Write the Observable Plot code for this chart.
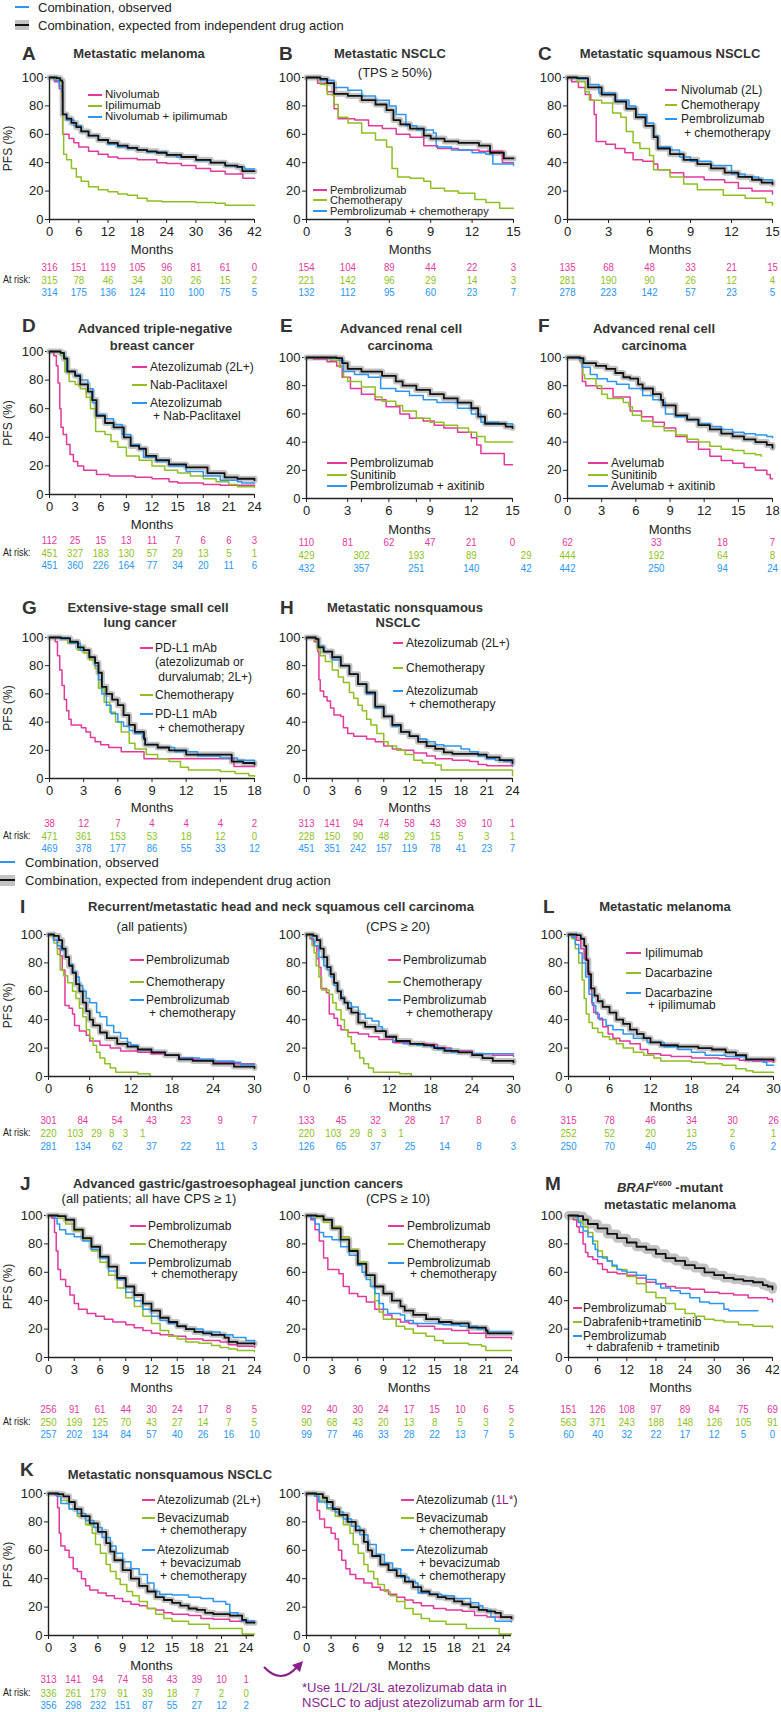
<!DOCTYPE html>
<html><head><meta charset="utf-8">
<script src="https://cdn.jsdelivr.net/npm/d3@7"></script>
<script src="https://cdn.jsdelivr.net/npm/@observablehq/plot@0.6"></script>
<style>
body{margin:0;background:#fff;}
#root{position:relative;width:781px;height:1712px;overflow:hidden;font-family:"Liberation Sans",Arial,Helvetica,sans-serif;color:#222;background:#fff;}
.t{position:absolute;white-space:pre;line-height:1;transform:translateY(-50%);}
.sw{position:absolute;height:2px;}
</style></head><body><div id="root"></div><script>
// ---------- colours ----------
const PINK = "#e2399c", GREEN = "#8fbf22", BLUE = "#2b95ef", PURPLE = "#8a1f8c";

// ---------- A: metastatic melanoma ----------
const A_arm1 = [[0,100],[1,97],[2,92],[2.6,85],[2.7,60],[4,57],[5,54],[6,51],[8,48],[10,46],[12,44],[14,43],[18,42],[22,40],[24,39.5],[27,38],[30,36],[33,34],[36,32],[39.5,32],[39.6,29],[42,29]];
const A_arm2 = [[0,100],[1,99],[2,97],[2.5,88],[2.7,60],[2.9,46],[3.5,42],[4.5,36],[5.5,30],[6.5,27],[8,23],[10,21],[12,19.5],[14,18],[16,17],[18,15],[20,13],[23,12.5],[30,12],[34,11.5],[36,10],[42,10]];
const A_obs = [[0,100],[1,98],[2,94],[2.5,90],[2.7,74],[3.5,70],[5,66],[6.5,62],[8,59],[10,56],[12,53],[14,51],[16,50],[18,49],[20,47.5],[24,45],[26,44],[30,41.5],[33,40],[36,38],[38,37],[40,35.5],[42,35.5]];
const A_exp = [[0,100],[1.5,99.5],[2.2,98],[2.6,97],[2.7,74],[3.5,71],[4.5,68],[5.5,65],[6.5,62],[8,59],[10,56],[12,54],[14,52],[16,50.5],[18,49],[20,48],[22,47],[24,45.5],[27,44],[30,42],[33,40],[36,38],[38.5,37],[39.5,34],[42,34]];
const A_ticks = [0,6,12,18,24,30,36,42];
const A_n1 = [316,151,119,105,96,81,61,0], A_n2 = [315,78,46,34,30,26,15,2], A_n3 = [314,175,136,124,110,100,75,5];

// ---------- B: NSCLC TPS>=50% ----------
const B_arm1 = [[0,100],[0.8,96],[1.5,90],[2,78],[2.3,71],[3.5,70],[4.5,66],[5.5,64],[6.5,60],[7.5,58],[8.5,52],[9.5,50],[11,49],[12.5,48],[14.2,40],[15,40]];
const B_arm2 = [[0,100],[1,95],[1.5,88],[2,81],[2.3,72],[3,68],[4,61],[5,56],[5.8,51],[6.2,36],[6.6,30],[7.5,29],[8.5,27],[9,22],[10,20],[11,18.5],[12.2,14],[13,12],[14,8],[15,8]];
const B_obs = [[0,100],[1,98],[2,93],[3,91],[4,87],[5,84],[6,80],[6.5,74],[7.2,66],[8,63],[9.2,61],[9.4,51],[10.5,49],[12,47],[13,46],[13.5,39],[15,38]];
const B_exp = [[0,100],[1,99],[1.5,96],[2,88.5],[3,87],[4,84],[5,81],[5.8,77],[6.3,70],[6.8,67],[7.5,64],[8.5,59],[9,57],[10,55],[11,54],[12.5,52],[13.3,47],[14.3,43],[15,43]];
const B_ticks = [0,3,6,9,12,15];
const B_n1 = [154,104,89,44,22,3], B_n2 = [221,142,96,29,14,3], B_n3 = [132,112,95,60,23,7];

// ---------- C: squamous NSCLC ----------
const C_arm1 = [[0,100],[0.3,97],[0.8,93],[1.3,88],[1.7,84],[1.95,74],[2.1,55],[2.8,53],[3.5,50],[4.2,47],[4.8,42],[5.5,41],[6.3,39],[6.6,35],[7.5,33],[8.5,30],[10,28],[11.5,26],[12.5,22],[13.5,20],[15,18]];
const C_arm2 = [[0,100],[0.7,97],[1.3,90],[1.6,84],[2.5,82],[3.3,75],[3.9,72],[4.3,62],[4.8,54],[5.3,50],[6,45],[6.3,35],[7.5,30],[8.5,25],[9.5,21],[11.4,17],[13,15],[14.5,12],[15,10]];
const C_obs = [[0,100],[0.8,99],[1.5,95],[2.3,89],[3.5,84],[4.5,80],[5,74],[5.8,68],[6.3,59],[6.6,51],[7.5,49],[8.2,44],[9,41],[10.5,38],[12,32],[13,30],[14,28],[15,26]];
const C_exp = [[0,100],[0.7,99.5],[1.5,93],[2.5,88],[3.5,83],[4.3,78],[5,72],[5.7,66],[6.3,58],[6.6,50],[7.5,46],[8.5,42],[9.5,39],[10.5,36],[11.5,33],[12.5,30],[13.5,28],[14.2,26],[15,25]];
const C_n1 = [135,68,48,33,21,15], C_n2 = [281,190,90,26,12,4], C_n3 = [278,223,142,57,23,5];

// ---------- D: TNBC ----------
const D_arm1 = [[0,100],[0.5,97],[0.8,90],[1,78],[1.2,60],[1.35,47],[1.6,42],[2,35],[2.4,28],[2.8,23],[3.3,20],[4,17],[5.5,14],[7,13],[10,12],[12,11],[14,9],[15,8],[18,7],[20,6.5],[24,6]];
const D_arm2 = [[0,100],[1.3,97],[1.8,86],[2.3,79],[3,77],[3.6,74],[4.3,68],[4.8,60],[5.4,44],[6.5,42],[7.2,37],[8,33],[9,27],[10.5,24],[12,20],[13.5,17],[15,15],[16.5,13],[18,11],[19.5,9],[21,7],[22,5.5],[24,5]];
const D_obs = [[0,100],[1.3,99],[1.7,96],[2,86],[3,84],[3.6,80],[4.5,74],[5.1,64],[5.5,56],[6.5,53],[7.5,49],[8.5,42],[9.5,35],[10.5,32],[11,26],[12.5,23],[14,20],[16,16],[18,13],[20,10],[22,9],[22.5,8],[24,8]];
const D_exp = [[0,100],[1.3,99],[1.7,95],[2.1,86],[3,83],[3.6,77],[4.5,72],[5,66],[5.5,55],[6.5,50],[7.5,47],[8.7,40],[9.5,34],[10.5,32],[11.3,27],[12.5,24],[14,21],[16,19],[18.5,15],[20.5,12],[22,11],[24,10]];
const D_ticks = [0,3,6,9,12,15,18,21,24];
const D_n1 = [112,25,15,13,11,7,6,6,3], D_n2 = [451,327,183,130,57,29,13,5,1], D_n3 = [451,360,226,164,77,34,20,11,6];

// ---------- E: RCC (pembrolizumab) ----------
const E_arm1 = [[0,100],[0.5,99],[1.5,97],[2.2,94],[2.6,86],[3.2,78],[4,74],[5,70],[5.8,65],[6.8,60],[7.5,57],[8.5,55],[9.3,52],[10,50],[11,47],[12,43],[12.4,38],[12.7,32],[14.3,32],[14.4,24],[15,24]];
const E_arm2 = [[0,100],[1.7,98],[2.4,93],[2.7,86],[3,83],[4,79],[5,72],[5.5,69],[6.5,66],[7,62],[8,57],[9,54],[10,52],[11,50],[11.8,47],[12.4,44],[13,40],[15,40]];
const E_obs = [[0,100],[1.5,99.5],[2.4,98],[2.7,90],[3.5,88],[4.5,86],[5.4,78],[6.5,76],[7.5,73],[8.5,70],[9.5,68],[11,64],[12,60],[12.7,54],[14,53],[15,52]];
const E_exp = [[0,100],[2.2,99.5],[2.6,96],[3,92],[4,90],[5.5,87],[6.5,83],[7,80],[8,77],[9,74],[10,71],[11,68],[12,64],[12.5,58],[13,53],[14.5,51],[15,50]];
const E_ticks = [0,3,4,6,8,9,12,15];
const E_t1 = [0,3,6,9,12,15], E_t2 = [0,4,8,12,16];
const E_n1 = [110,81,62,47,21,0], E_n2 = [429,302,193,89,29], E_n3 = [432,357,251,140,42];

// ---------- F: RCC (avelumab) ----------
const F_arm1 = [[0,100],[1.1,97],[1.3,83],[1.6,80],[2.6,78],[4,72],[5.3,72],[5.5,62],[6.5,58],[7.5,54],[8.5,50],[9.5,44],[10.5,40],[11.5,35],[12.5,30],[13.5,27],[14.5,25],[15.5,22],[16.5,20],[17.5,17],[17.8,14],[18,14]];
const F_arm2 = [[0,100],[1.2,96],[1.35,88],[1.5,85],[2.5,80],[3,74],[3.5,71],[4.9,68],[5.4,65],[5.7,59],[6.5,55],[7.5,51],[8.5,48],[9.5,45],[10.5,42],[11.5,40],[12.5,37],[13.5,35],[14.5,34],[15.5,32],[16.5,31],[17,30]];
const F_obs = [[0,100],[1,99],[1.3,93],[2,88],[2.6,85],[3.5,83],[4.3,81],[5.4,78],[6.6,73],[7.5,70],[8.3,68],[8.6,60],[9.5,58],[10.5,56],[11.5,53],[12.5,51],[13.5,49],[14.5,47],[15.5,46],[16.5,45],[17.5,44],[18,43]];
const F_exp = [[0,100],[1.1,99.5],[1.4,96],[2.5,94],[3.4,92],[4.2,89],[4.9,86],[5.5,85],[6.2,81],[6.6,78],[7.5,74],[8.2,70],[8.4,66],[9.5,59],[10.5,56],[11.5,52],[12.5,49],[13.5,46],[14.5,44],[15.5,42],[16.5,40],[17.5,38],[18,36]];
const F_ticks = [0,3,6,9,12,15,18];
const F_t = [0,7.8,13.6,18];
const F_n1 = [62,33,18,7], F_n2 = [444,192,64,8], F_n3 = [442,250,94,24];

// ---------- G: ES-SCLC ----------
const G_arm1 = [[0,100],[0.5,97],[0.7,87],[0.9,77],[1.1,66],[1.3,56],[1.5,48],[1.7,42],[1.9,38],[2.8,36],[3.2,33],[3.6,29],[4,26],[4.5,24],[5.2,22],[6.3,19],[8.3,14],[16,14],[16.2,8.5],[18,8.5]];
const G_arm2 = [[0,100],[1.3,99],[1.6,96],[2.5,91],[3,89],[3.5,84],[4,78],[4.3,64],[4.8,54],[5.3,47],[5.8,40],[6.3,33],[7,25],[7.5,21],[8.5,17],[9.5,14],[10.5,12],[11.5,8],[12.2,6],[15,5],[16.3,3.5],[17.5,2],[18,1.5]];
const G_obs = [[0,100],[1,99],[1.8,96],[2.7,91],[3.5,86],[4,80],[4.3,70],[4.6,60],[5,52],[5.4,46],[6,40],[6.5,37],[7,34],[7.5,32],[8.2,29],[8.4,24],[9.5,22],[11,19],[13,16],[15,14.5],[16.5,13],[18,12]];
const G_exp = [[0,100],[1,99.5],[1.8,97],[2.5,93],[3,91],[3.5,86],[4,82],[4.3,75],[4.6,65],[5,60],[5.5,56],[6,52],[6.5,45],[7,38],[7.5,33],[8.3,28],[8.4,24],[9.5,22],[10.5,20],[12,17],[15.7,17],[16,12],[17,11],[18,10]];
const G_ticks = [0,3,6,9,12,15,18];
const G_n1 = [38,12,7,4,4,4,2], G_n2 = [471,361,153,53,18,12,0], G_n3 = [469,378,177,86,55,33,12];

// ---------- H: nonsquamous NSCLC ----------
const H_arm1 = [[0,100],[0.9,97],[1.3,90],[1.45,70],[1.6,62],[2,58],[2.4,55],[2.8,50],[3.2,45],[4,44],[4.3,36],[4.8,32],[5.5,30],[7,28],[8,26],[9,23],[10,21],[11,20],[12.5,18],[14,16],[15,14],[17,13],[19,12],[20,10],[21,9],[24,8.5]];
const H_arm2 = [[0,100],[0.9,98],[1.3,92],[1.6,87],[2.2,83],[3,77],[3.7,72],[4.3,68],[5,61],[5.5,57],[6,52],[6.5,48],[7,42],[7.5,38],[8.2,32],[9,26],[9.5,23],[10.5,20],[11.5,17],[12.5,13],[13.5,11],[15,9.5],[15.7,6],[23.8,6],[24,2]];
const H_obs = [[0,100],[1.1,99],[1.4,94],[2,90],[3,84],[4,80],[5,74],[6,67],[7,60],[8,50],[9,44],[10,37],[11,33],[12,30],[13,28],[14,26],[15,24],[16,23],[18,21],[19,19],[20,16],[21,14],[22,13],[23,12],[24,10]];
const H_exp = [[0,100],[1.1,99],[1.4,93],[2,90],[3,86],[4,80],[5,74],[6,67],[7,61],[8,51],[9,44],[10,38],[11,33],[12,30],[13,26],[14,23],[15,21],[16,18.5],[17,17.5],[20,17],[21,15],[22.5,13],[24,11]];
const H_n1 = [313,141,94,74,58,43,39,10,1], H_n2 = [228,150,90,48,29,15,5,3,1], H_n3 = [451,351,242,157,119,78,41,23,7];

// ---------- I: HNSCC ----------
const I1_arm1 = [[0,100],[0.8,96],[1.3,90],[1.7,85],[2,75],[2.4,50],[3,48],[3.5,44],[3.8,36],[4.5,32],[5.5,29],[6,25],[7.5,22],[9,20],[10.5,18],[13,17],[15,16],[17,15],[19,13],[21,12],[24,10],[27,9],[30,9]];
const I1_arm2 = [[0,100],[0.3,99],[0.8,94],[1.3,86],[1.7,75],[2.2,71],[2.8,66],[3.5,60],[4,55],[4.5,48],[5,42],[5.5,33],[6,27],[6.5,22],[7,17],[7.5,13],[8.2,9],[9,6],[9.8,3],[13,2],[14.8,0.5]];
const I1_obs = [[0,100],[0.7,96],[1.3,92],[1.8,89],[2.5,84],[3,79],[3.5,74],[4,70],[4.5,64],[5,60],[5.5,55],[6,52],[7,45],[7.5,42],[8.5,36],[9.5,31],[10.5,27],[11.5,24],[12,22],[13,19],[15,17],[17,15],[19,13],[22,12],[24,11],[27,10],[28,8.5],[30,8.5]];
const I1_exp = [[0,100],[0.8,99],[1.5,96],[2,90],[2.5,84],[3,78],[3.5,73],[4,65],[4.5,60],[5,52],[5.5,46],[6,40],[6.5,36],[7.5,31],[8.5,27],[10,23],[11.5,21],[13,19],[15,17],[17,15],[19,12],[21,11],[24,9],[27,7],[30,6]];
const I2_arm1 = [[0,100],[0.5,97],[1,92],[1.5,83],[1.8,77],[2.1,62],[2.9,59],[3.3,44],[4,41],[4.5,36],[5,33],[6,31],[7.5,30],[9,28],[10.5,26],[12.5,24],[15,23],[17.5,22.5],[19,20],[21,18],[24,16],[27,15],[30,14]];
const I2_arm2 = [[0,100],[0.5,98],[0.8,92],[1.1,87],[1.4,78],[1.8,70],[2.2,61],[3.3,58],[3.8,52],[4.3,47],[5,40],[5.5,33],[6,28],[6.5,23],[7,18],[7.7,13],[8.3,9],[9,6],[9.7,3],[13.5,2],[15.2,0.5]];
const I2_obs = [[0,100],[0.8,96],[1.2,92],[1.8,84],[2.5,78],[3,75],[3.5,70],[4,64],[4.5,60],[5,56],[5.5,52],[6.5,49],[7.5,44],[8.5,41],[9.5,39],[10.5,35],[11,32],[11.5,28],[12.5,25],[14,23],[16,22],[18,21],[19,19],[21,17],[24,16],[30,16]];
const I2_exp = [[0,100],[1,99],[1.5,96],[2,90],[2.5,84],[3,77],[3.5,72],[4,66],[4.5,60],[5,55],[5.5,52],[6,48],[6.5,45],[7.5,38],[8.5,35],[10,32],[11.5,28],[13,25],[15,23],[17,22],[18.5,20],[20,18],[22,17],[24,15],[25.5,13],[27,11],[30,10]];
const I_ticks = [0,6,12,18,24,30];
const I_t13 = [0,5,10,15,20,25,30], I_t2 = [0,3.9,7,9.2,11.2,13.7];
const I1_n1 = [301,84,54,43,23,9,7], I1_n2 = [220,103,29,8,3,1], I1_n3 = [281,134,62,37,22,11,3];
const I2_n1 = [133,45,32,28,17,8,6], I2_n2 = [220,103,29,8,3,1], I2_n3 = [126,65,37,25,14,8,3];

// ---------- L: melanoma (dacarbazine) ----------
const L_arm1 = [[0,100],[0.6,99],[1.2,96],[1.8,90],[2.3,83],[2.8,74],[3.1,62],[3.4,52],[3.7,45],[4.3,41],[5,35],[5.8,30],[6.5,27],[7.5,25],[9,23],[10.5,19],[11.6,16],[13.5,15],[15,14],[18,13],[22,12.5],[25,11.5],[27,11],[30,10]];
const L_arm2 = [[0,100],[0.5,97],[1,90],[1.5,80],[2,68],[2.3,55],[2.6,44],[3,38],[3.5,34],[4.3,31],[5,28],[6,26],[7,23],[8,20],[9.5,17],[11,15],[12.5,13],[13.5,11],[18,10],[20,9],[22.5,8],[24.5,5.5],[26,4],[27,3],[30,3]];
const L_obs = [[0,100],[0.5,98],[1,93],[1.5,87],[2,80],[2.5,70],[3,58],[3.5,50],[4,44],[4.5,40],[5.5,36],[6.5,33],[8,30],[9.5,27],[11.5,24],[14,21],[16,19],[18,17],[20,15],[23,14],[26,12],[28.5,10],[29,8],[30,8]];
const L_exp = [[0,100],[1.2,99.5],[1.8,97],[2.3,92],[2.6,82],[2.9,72],[3.3,62],[3.8,57],[4.3,53],[5,49],[6,45],[7,40],[8,37],[9,33],[10,30],[11,27],[12,24],[13.5,22],[16,21],[19,20],[21,19],[23,17],[24.5,15],[26,12],[30,11.5]];
const L_t = [0,6,12,18,24,30];
const L_n1 = [315,78,46,34,30,26], L_n2 = [252,52,20,13,2,1], L_n3 = [250,70,40,25,6,2];

// ---------- J: gastric/GEJ ----------
const J1_arm1 = [[0,100],[0.4,98],[0.7,88],[0.9,75],[1.1,62],[1.4,55],[2,50],[2.5,44],[3,38],[3.5,34],[4.5,31],[5.5,29],[6.5,27],[7.5,25],[9,23],[10,21],[11,19],[12,17],[13,16],[14.5,15],[16,13],[18,12],[20,11],[21,9],[22,8],[24,7]];
const J1_arm2 = [[0,100],[1.3,98],[2,94],[3,89],[4,83],[5,75],[6,67],[7,58],[8,49],[9,42],[10,36],[11,29],[12,24],[13,19],[14,15],[15,13],[16,11],[17.5,10],[19,8.5],[20,7],[21,6],[22,5],[24,4]];
const J1_obs = [[0,100],[0.7,98],[1,94],[1.3,90],[2,87],[3,85],[4,82],[5,76],[6,70],[7,61],[8,55],[9,46],[10,40],[11,34],[12,29],[13,26],[14,24],[15,22],[16,20],[18,18],[20,16],[21.5,14],[23,12],[24,11]];
const J1_exp = [[0,100],[1.1,99.5],[2,97],[3,90],[4,84],[5,78],[6,71],[7,64],[8,56],[9,50],[10,44],[11,38],[12,33],[13,28],[14,25],[15,22],[16,20],[17,18],[18,17],[19,16],[20.5,14],[21,11],[22,10],[24,9.5]];
const J2_arm1 = [[0,100],[0.5,97],[1,90],[1.5,82],[2,70],[2.5,62],[3.8,59],[4.3,50],[5,45],[6,43],[7,39],[8,34],[9,30],[10,27],[11,25],[12,24],[13,22],[15,20],[17,19],[19,17],[21,14],[24,13]];
const J2_arm2 = [[0,100],[1,99],[2,95],[3,92],[4,85],[5,76],[6,67],[7,58],[7.5,50],[8,40],[8.5,32],[9,27],[10.5,22],[11.5,20],[12.5,17],[14,15],[15,12],[16,10],[19,9],[20.5,8],[21,5],[24,5]];
const J2_obs = [[0,100],[0.5,98],[1,94],[1.5,88],[2,85],[3,83],[4,78],[5,72],[6,65],[6.5,60],[7,55],[7.5,50],[8,45],[8.5,38],[9,34],[9.5,31],[11,30],[11.5,26],[12.5,24],[14,24],[16,23],[18,22],[20,20],[21,18],[24,18]];
const J2_exp = [[0,100],[1.2,99.5],[2,97],[3,91],[4,83],[5,75],[6,66],[7,58],[8,50],[9,45],[10,40],[11,36],[11.5,33],[12.5,30],[14,27],[15.5,25],[17,24],[19,21],[21,19],[21.2,17],[24,17]];
const J_ticks = [0,3,6,9,12,15,18,21,24];
const J1_n1 = [256,91,61,44,30,24,17,8,5], J1_n2 = [250,199,125,70,43,27,14,7,5], J1_n3 = [257,202,134,84,57,40,26,16,10];
const J2_n1 = [92,40,30,24,17,15,10,6,5], J2_n2 = [90,68,43,20,13,8,5,3,2], J2_n3 = [99,77,46,33,28,22,13,7,5];

// ---------- M: BRAF V600 melanoma ----------
const M_arm1 = [[0,100],[1,97],[1.7,92],[2.2,88],[3,80],[3.5,74],[4,71],[5,69],[6,66],[7,62],[8,60],[10,59],[12,58],[14,56],[16,53],[18,52],[20,50],[22,49],[25,48],[28,46],[31,45],[34,44],[37,42],[41,41],[42,39]];
const M_arm2 = [[0,100],[1,99],[2,96],[3,92],[4,88],[5,82],[6,75],[7,71],[8,68],[9,64],[10,62],[12,57],[14,52],[16,46],[18,42],[20,38],[22,34],[24,31],[26,29],[28,27],[30,26],[32,25],[35,23],[38,22],[42,21]];
const M_obs = [[0,100],[1.5,99],[2,95],[2.5,92],[3,89],[4,85],[5,80],[5.5,76],[6,71],[7,70],[8,68],[9,65],[10,62],[11,61],[12,60],[14,58],[16,55],[18,52],[19,49],[21,47],[23,45],[25,42],[27,39],[29,38],[32,34],[33,33],[39,33]];
const M_exp = [[0,100],[2,99.5],[3,97],[4,94],[6,91],[8,87],[10,84],[12,81],[14,78],[16,76],[18,73],[20,70],[22,68],[24,65],[26,63],[28,60],[30,58],[32,56],[34,55],[36,54],[38,53],[40,51],[41,50],[42,48]];
const M_n1 = [151,126,108,97,89,84,75,69], M_n2 = [563,371,243,188,148,126,105,91], M_n3 = [60,40,32,22,17,12,5,0];

// ---------- K: nonsquamous NSCLC (bevacizumab) ----------
const K1_arm1 = [[0,100],[0.8,99],[1.1,90],[1.3,72],[1.5,63],[2,60],[2.5,55],[3,47],[3.5,45],[4,40],[4.5,35],[5,32],[6,30],[7,28],[8,26],[9,24],[10,22],[11,21],[12,19],[13,18],[14,16],[15,15],[17,14],[18.5,12],[20,11.5],[22,10],[25,9]];
const K_arm2 = [[0,100],[1,99],[1.5,95],[2.5,89],[3.5,84],[4.5,78],[5.3,72],[5.7,64],[6.3,58],[7,50],[7.5,45],[8.2,40],[8.7,36],[9.5,31],[10.2,28],[11,24],[12,19],[13,15],[14,12],[15,10],[17,8],[19.5,5],[23.4,5],[23.5,1],[25,1]];
const K1_obs = [[0,100],[1,98],[1.5,93],[2.5,89],[3.5,86],[4.5,81],[5.5,76],[6.5,69],[7.5,63],[8.2,58],[9,52],[10,47],[11,43],[12,37],[12.8,31],[13.5,29],[15,28.5],[17,27],[18.5,26],[20,24],[21.5,22],[22,16],[23,14],[23.5,10],[25,9]];
const K1_exp = [[0,100],[1.2,99.5],[1.8,98],[2.5,94],[3.2,89],[4,84],[5,79],[6,73],[7,65],[7.5,59],[8,53],[9,46],[10,40],[11,35],[12,31],[13,27],[14,25],[15,23],[16,21],[17,19],[18,18],[19,16],[20,15],[22,14],[23.5,11],[24,9],[25,9]];
const K2_arm1 = [[0,100],[1,99],[1.3,88],[1.6,82],[2.2,76],[3,72],[3.5,68],[3.9,60],[4.3,53],[4.8,47],[5.3,43],[6,40],[7,37],[8,34],[9,32],[10,29],[11,27],[12,25],[13,23],[14,21],[15.5,19],[17,18],[19,17],[20.5,14],[22,13],[25,12]];
const K2_obs = [[0,100],[1,98],[1.5,94],[2.5,90],[3.5,87],[4.5,82],[5.5,77],[6.5,71],[7.5,64],[8.5,57],[9.5,51],[10.5,47],[11.5,41],[12.5,38],[13.3,37],[13.6,30],[15,29],[16.5,28],[18,26],[20,23],[21,21],[21.5,18],[22.5,13],[23,10],[25,9.5]];
const K2_exp = [[0,100],[1.2,99.5],[2,97],[2.5,94],[3.2,89],[4,85],[5,80],[6,74],[7,66],[7.5,60],[8,56],[9,50],[10,46],[11,42],[12,38],[13,34],[14,31],[15,29],[16,27],[17,26],[18,24],[19,22],[20,20],[21,18],[22,17],[23,16],[23.7,13],[25,12]];
const K_ticks = [0,3,6,9,12,15,18,21,24];
const K_n1 = [313,141,94,74,58,43,39,10,1], K_n2 = [336,261,179,91,39,18,7,2,0], K_n3 = [356,298,232,151,87,55,27,12,2];

// ================= drawing =================
const root = document.getElementById("root");
const FONT = "'Liberation Sans', Arial, Helvetica, sans-serif";
const NARROW = "'Liberation Sans Narrow', 'Arial Narrow', 'Liberation Sans', Arial, sans-serif";

function txt(x, y, s, o = {}) {
  const d = document.createElement("div");
  d.className = "t";
  d.style.left = x + "px"; d.style.top = y + "px";
  d.style.fontSize = (o.size || 12) + "px";
  if (o.bold) { d.style.fontWeight = "bold"; d.style.color = "#333"; }
  if (o.center) d.style.transform = "translate(-50%,-50%)";
  if (o.squeeze) { d.style.transform = "translateY(-50%) scaleX(" + o.squeeze + ")"; d.style.transformOrigin = "0 50%"; }
  if (o.color) d.style.color = o.color;
  d.innerHTML = s;
  root.append(d);
}
function sw(x0, x1, y, color, h = 2) {
  const d = document.createElement("div");
  d.className = "sw";
  d.style.left = x0 + "px"; d.style.width = (x1 - x0) + "px";
  d.style.top = (y - h / 2) + "px"; d.style.height = h + "px";
  d.style.background = color;
  root.append(d);
}
function legend(sx0, sx1, tx, entries, size = 12) {
  for (const [color, ys, lines] of entries) {
    sw(sx0, sx1, ys[0], color);
    lines.forEach((l, i) => txt(tx + (i > 0 && l[0] === "+" ? 3 : 0), ys[i], l, {size}));
  }
}
function letter(x, y, s) { txt(x, y, s, {size: 19, bold: true}); }
function title(cx, y, s, bold = true) { txt(cx, y, s, {size: 13, bold, center: true}); }

function panel(p) {
  const left = Math.max(0, p.x0 - 48);
  const top = p.yTop - 10;
  const bottom = p.riskY[2] + 10;
  const mr = 30;
  const width = p.x1 - left + mr;
  const height = bottom - top;
  const base = p.yBot;
  const lineOf = (data, stroke, strokeWidth) =>
    Plot.line(data, {x: d => d[0], y: d => d[1], curve: "step-after", stroke, strokeWidth});
  const marks = [
    lineOf(p.exp, "#c3c3c3", p.band || 6),
    lineOf(p.arm1, PINK, 1.5),
    lineOf(p.arm2, GREEN, 1.5),
    lineOf(p.obs, BLUE, 1.5),
    lineOf(p.exp, "#111", 1.8),
    Plot.ruleX([0], {stroke: "#222", strokeWidth: 1.4}),
    Plot.ruleY([0], {stroke: "#222", strokeWidth: 1.4}),
    Plot.text(["Months"], {x: () => p.xMax / 2, y: () => 0, dy: p.monthsY - base, fontSize: 13, fill: "#222"})
  ];
  p.risk.forEach((r, k) => {
    marks.push(Plot.text(r.t.map((t, i) => ({t, n: r.n[i]})), {
      x: "t", y: () => 0, text: d => String(d.n), dy: p.riskY[k] - base,
      fill: r.c, fontSize: 11.5, fontFamily: NARROW, ariaDescription: "risk"
    }));
  });
  if (p.first) {
    marks.push(Plot.text(["PFS (%)"], {x: () => 0, y: () => 50, dx: 8 - p.x0, rotate: -90, fontSize: 12, fill: "#222"}));
    txt(3, p.riskY[1], "At risk:", {size: 11.5, squeeze: 0.78});
  }
  const svg = Plot.plot({
    width, height,
    marginLeft: p.x0 - left, marginRight: mr, marginTop: p.yTop - top, marginBottom: bottom - p.yBot,
    x: {domain: [0, p.xMax], ticks: p.ticks, tickSize: 4, tickPadding: 3, label: null,
        tickFormat: d => (p.noLabel && p.noLabel.includes(d)) ? "" : String(d)},
    y: {domain: [0, 100], ticks: [0, 20, 40, 60, 80, 100], tickSize: 4, tickPadding: 2, label: null},
    style: {background: "transparent", overflow: "visible", fontFamily: FONT, fontSize: "13px", color: "#222"},
    marks
  });
  svg.style.position = "absolute";
  svg.style.left = left + "px";
  svg.style.top = top + "px";
  root.append(svg);
  // slightly condense the at-risk numbers, as in the source figure
  try {
    svg.querySelectorAll('g[aria-description="risk"] text').forEach(t => {
      const L = t.getComputedTextLength();
      if (L > 0) { t.setAttribute("textLength", (L * 0.84).toFixed(2)); t.setAttribute("lengthAdjust", "spacingAndGlyphs"); }
    });
  } catch (e) {}
}
const rows = (t1, n1, t2, n2, t3, n3) => [{t: t1, n: n1, c: PINK}, {t: t2, n: n2, c: GREEN}, {t: t3, n: n3, c: BLUE}];

// ---------- top legend ----------
sw(15, 29, 7, BLUE); txt(38, 7, "Combination, observed", {size: 13});
sw(15, 29, 25, "#c3c3c3", 10); sw(15, 29, 25, "#111"); txt(38, 25, "Combination, expected from independent drug action", {size: 13});

// ---------- row 1 ----------
const R1 = {yTop: 77, yBot: 219, monthsY: 249, riskY: [267, 280, 292]};
panel({...R1, x0: 49, x1: 254, xMax: 42, ticks: A_ticks, first: true,
  arm1: A_arm1, arm2: A_arm2, obs: A_obs, exp: A_exp, risk: rows(A_ticks, A_n1, A_ticks, A_n2, A_ticks, A_n3)});
panel({...R1, x0: 306, x1: 513, xMax: 15, ticks: B_ticks,
  arm1: B_arm1, arm2: B_arm2, obs: B_obs, exp: B_exp, risk: rows(B_ticks, B_n1, B_ticks, B_n2, B_ticks, B_n3)});
panel({...R1, x0: 567, x1: 772, xMax: 15, ticks: B_ticks,
  arm1: C_arm1, arm2: C_arm2, obs: C_obs, exp: C_exp, risk: rows(B_ticks, C_n1, B_ticks, C_n2, B_ticks, C_n3)});
letter(22, 53, "A"); title(139, 53, "Metastatic melanoma");
letter(279, 53, "B"); title(390, 53, "Metastatic NSCLC"); title(395, 72, "(TPS ≥ 50%)", false);
letter(538, 53, "C"); title(670, 53, "Metastatic squamous NSCLC");
legend(88, 102, 105, [[PINK, [95], ["Nivolumab"]], [GREEN, [106], ["Ipilimumab"]], [BLUE, [117], ["Nivolumab + ipilimumab"]]], 11.5);
legend(313, 327, 330, [[PINK, [190], ["Pembrolizumab"]], [GREEN, [200], ["Chemotherapy"]], [BLUE, [211], ["Pembrolizumab + chemotherapy"]]], 11);
legend(665, 677, 681, [[PINK, [90], ["Nivolumab (2L)"]], [GREEN, [105], ["Chemotherapy"]], [BLUE, [119, 133], ["Pembrolizumab", "+ chemotherapy"]]]);

// ---------- row 2 ----------
panel({x0: 49, x1: 254, yTop: 351, yBot: 494, monthsY: 524, riskY: [540, 553, 565], xMax: 24, ticks: D_ticks, first: true,
  arm1: D_arm1, arm2: D_arm2, obs: D_obs, exp: D_exp, risk: rows(D_ticks, D_n1, D_ticks, D_n2, D_ticks, D_n3)});
const R2b = {yTop: 357, yBot: 498, monthsY: 529, riskY: [542, 555, 568]};
panel({...R2b, x0: 306, x1: 512, xMax: 15, ticks: E_ticks, noLabel: [4, 8],
  arm1: E_arm1, arm2: E_arm2, obs: E_obs, exp: E_exp, risk: rows(E_t1, E_n1, E_t2, E_n2, E_t2, E_n3)});
panel({...R2b, x0: 567, x1: 772, xMax: 18, ticks: F_ticks,
  arm1: F_arm1, arm2: F_arm2, obs: F_obs, exp: F_exp, risk: rows(F_t, F_n1, F_t, F_n2, F_t, F_n3)});
letter(22, 325, "D"); title(155, 328, "Advanced triple-negative"); title(152, 345, "breast cancer");
letter(280, 325, "E"); title(401, 328, "Advanced renal cell"); title(400, 345, "carcinoma");
letter(538, 325, "F"); title(654, 328, "Advanced renal cell"); title(654, 345, "carcinoma");
legend(132, 147, 150, [[PINK, [367], ["Atezolizumab (2L+)"]], [GREEN, [385], ["Nab-Paclitaxel"]], [BLUE, [403, 416], ["Atezolizumab", "+ Nab-Paclitaxel"]]]);
legend(327, 347, 350, [[PINK, [463], ["Pembrolizumab"]], [GREEN, [475], ["Sunitinib"]], [BLUE, [486], ["Pembrolizumab + axitinib"]]]);
legend(588, 608, 611, [[PINK, [463], ["Avelumab"]], [GREEN, [475], ["Sunitinib"]], [BLUE, [486], ["Avelumab + axitinib"]]]);

// ---------- row 3 ----------
const R3 = {yTop: 637, yBot: 778, monthsY: 807, riskY: [823, 836, 848]};
panel({...R3, x0: 49, x1: 254, xMax: 18, ticks: G_ticks, first: true,
  arm1: G_arm1, arm2: G_arm2, obs: G_obs, exp: G_exp, risk: rows(G_ticks, G_n1, G_ticks, G_n2, G_ticks, G_n3)});
panel({...R3, x0: 306, x1: 512, xMax: 24, ticks: D_ticks,
  arm1: H_arm1, arm2: H_arm2, obs: H_obs, exp: H_exp, risk: rows(D_ticks, H_n1, D_ticks, H_n2, D_ticks, H_n3)});
letter(22, 607, "G"); title(148, 607, "Extensive-stage small cell"); title(140, 622, "lung cancer");
letter(280, 607, "H"); title(405, 607, "Metastatic nonsquamous"); title(398, 622, "NSCLC");
legend(140, 153, 155, [[PINK, [648, 662, 677], ["PD-L1 mAb", "(atezolizumab or", " durvalumab; 2L+)"]], [GREEN, [695], ["Chemotherapy"]], [BLUE, [714, 728], ["PD-L1 mAb", "+ chemotherapy"]]]);
legend(393, 403, 406, [[PINK, [643], ["Atezolizumab (2L+)"]], [GREEN, [668], ["Chemotherapy"]], [BLUE, [691, 704], ["Atezolizumab", "+ chemotherapy"]]]);

// ---------- second legend ----------
sw(0, 15, 862, BLUE); txt(25, 862, "Combination, observed", {size: 13});
sw(0, 15, 880, "#c3c3c3", 11); sw(0, 15, 880, "#111"); txt(25, 880, "Combination, expected from independent drug action", {size: 13});

// ---------- row 4 (I, L) ----------
const R4 = {yTop: 934, yBot: 1076, monthsY: 1106, riskY: [1120, 1133, 1146]};
panel({...R4, x0: 48, x1: 254, xMax: 30, ticks: I_ticks, first: true,
  arm1: I1_arm1, arm2: I1_arm2, obs: I1_obs, exp: I1_exp, risk: rows(I_t13, I1_n1, I_t2, I1_n2, I_t13, I1_n3)});
panel({...R4, x0: 306, x1: 513, xMax: 30, ticks: I_ticks,
  arm1: I2_arm1, arm2: I2_arm2, obs: I2_obs, exp: I2_exp, risk: rows(I_t13, I2_n1, I_t2, I2_n2, I_t13, I2_n3)});
panel({...R4, x0: 568, x1: 773, xMax: 30, ticks: I_ticks,
  arm1: L_arm1, arm2: L_arm2, obs: L_obs, exp: L_exp, risk: rows(L_t, L_n1, L_t, L_n2, L_t, L_n3)});
letter(20, 906, "I"); title(281, 906, "Recurrent/metastatic head and neck squamous cell carcinoma");
title(152, 926, "(all patients)", false); title(398, 926, "(CPS ≥ 20)", false);
letter(543, 906, "L"); title(665, 906, "Metastatic melanoma");
legend(130, 144, 146, [[PINK, [960], ["Pembrolizumab"]], [GREEN, [982], ["Chemotherapy"]], [BLUE, [1000, 1013], ["Pembrolizumab", "+ chemotherapy"]]]);
legend(388, 401, 403, [[PINK, [960], ["Pembrolizumab"]], [GREEN, [982], ["Chemotherapy"]], [BLUE, [1000, 1013], ["Pembrolizumab", "+ chemotherapy"]]]);
legend(626, 641, 645, [[PINK, [953], ["Ipilimumab"]], [GREEN, [973], ["Dacarbazine"]], [BLUE, [993, 1005], ["Dacarbazine", "+ ipilimumab"]]]);

// ---------- row 5 (J, M) ----------
const R5 = {yTop: 1215, yBot: 1357, monthsY: 1387, riskY: [1409, 1422, 1434]};
panel({...R5, x0: 48, x1: 254, xMax: 24, ticks: J_ticks, first: true,
  arm1: J1_arm1, arm2: J1_arm2, obs: J1_obs, exp: J1_exp, risk: rows(J_ticks, J1_n1, J_ticks, J1_n2, J_ticks, J1_n3)});
panel({...R5, x0: 306, x1: 511, xMax: 24, ticks: J_ticks,
  arm1: J2_arm1, arm2: J2_arm2, obs: J2_obs, exp: J2_exp, risk: rows(J_ticks, J2_n1, J_ticks, J2_n2, J_ticks, J2_n3)});
panel({...R5, x0: 568, x1: 772, xMax: 42, ticks: A_ticks, band: 9,
  arm1: M_arm1, arm2: M_arm2, obs: M_obs, exp: M_exp, risk: rows(A_ticks, M_n1, A_ticks, M_n2, A_ticks, M_n3)});
letter(20, 1183, "J"); title(238, 1183, "Advanced gastric/gastroesophageal junction cancers");
title(149, 1198, "(all patients; all have CPS ≥ 1)", false); title(398, 1198, "(CPS ≥ 10)", false);
letter(545, 1183, "M"); title(670, 1187, '<i>BRAF</i><sup style="font-size:8px">V600</sup> -mutant'); title(670, 1204, "metastatic melanoma");
legend(130, 146, 148, [[PINK, [1226], ["Pembrolizumab"]], [GREEN, [1244], ["Chemotherapy"]], [BLUE, [1263, 1274], ["Pembrolizumab", "+ chemotherapy"]]]);
legend(388, 404, 407, [[PINK, [1226], ["Pembrolizumab"]], [GREEN, [1244], ["Chemotherapy"]], [BLUE, [1263, 1274], ["Pembrolizumab", "+ chemotherapy"]]]);
legend(573, 582, 583, [[PINK, [1308], ["Pembrolizumab"]], [GREEN, [1322], ["Dabrafenib+trametinib"]], [BLUE, [1336, 1347], ["Pembrolizumab", "+ dabrafenib + trametinib"]]]);

// ---------- row 6 (K) ----------
const R6 = {yTop: 1493, yBot: 1635, monthsY: 1665, riskY: [1679, 1693, 1705]};
panel({...R6, x0: 48, x1: 254, xMax: 25, ticks: K_ticks, first: true,
  arm1: K1_arm1, arm2: K_arm2, obs: K1_obs, exp: K1_exp, risk: rows(K_ticks, K_n1, K_ticks, K_n2, K_ticks, K_n3)});
panel({x0: 306, x1: 511, yTop: 1493, yBot: 1635, monthsY: 1665, riskY: [1679, 1680, 1681], xMax: 25, ticks: K_ticks,
  arm1: K2_arm1, arm2: K_arm2, obs: K2_obs, exp: K2_exp, risk: []});
letter(20, 1469, "K"); title(170, 1474, "Metastatic nonsquamous NSCLC");
legend(142, 155, 157, [[PINK, [1500], ["Atezolizumab (2L+)"]], [GREEN, [1518, 1530], ["Bevacizumab", "+ chemotherapy"]], [BLUE, [1550, 1563, 1576], ["Atezolizumab", "+ bevacizumab", "+ chemotherapy"]]]);
legend(401, 414, 416, [[PINK, [1500], ['Atezolizumab (<span style="color:' + PURPLE + '">1L*</span>)']], [GREEN, [1518, 1530], ["Bevacizumab", "+ chemotherapy"]], [BLUE, [1550, 1563, 1576], ["Atezolizumab", "+ bevacizumab", "+ chemotherapy"]]]);
txt(302, 1687, "*Use 1L/2L/3L atezolizumab data in", {size: 13, color: PURPLE});
txt(302, 1702, "NSCLC to adjust atezolizumab arm for 1L", {size: 13, color: PURPLE});
// curved arrow
const ns = "http://www.w3.org/2000/svg";
const a = document.createElementNS(ns, "svg");
a.setAttribute("width", 60); a.setAttribute("height", 30);
a.style.position = "absolute"; a.style.left = "255px"; a.style.top = "1655px";
a.innerHTML = '<path d="M9,12 Q26,30 42,12" fill="none" stroke="' + PURPLE + '" stroke-width="2.2"/><path d="M48,6 L37,10 L45,17 Z" fill="' + PURPLE + '"/>';
root.append(a);
</script></body></html>
